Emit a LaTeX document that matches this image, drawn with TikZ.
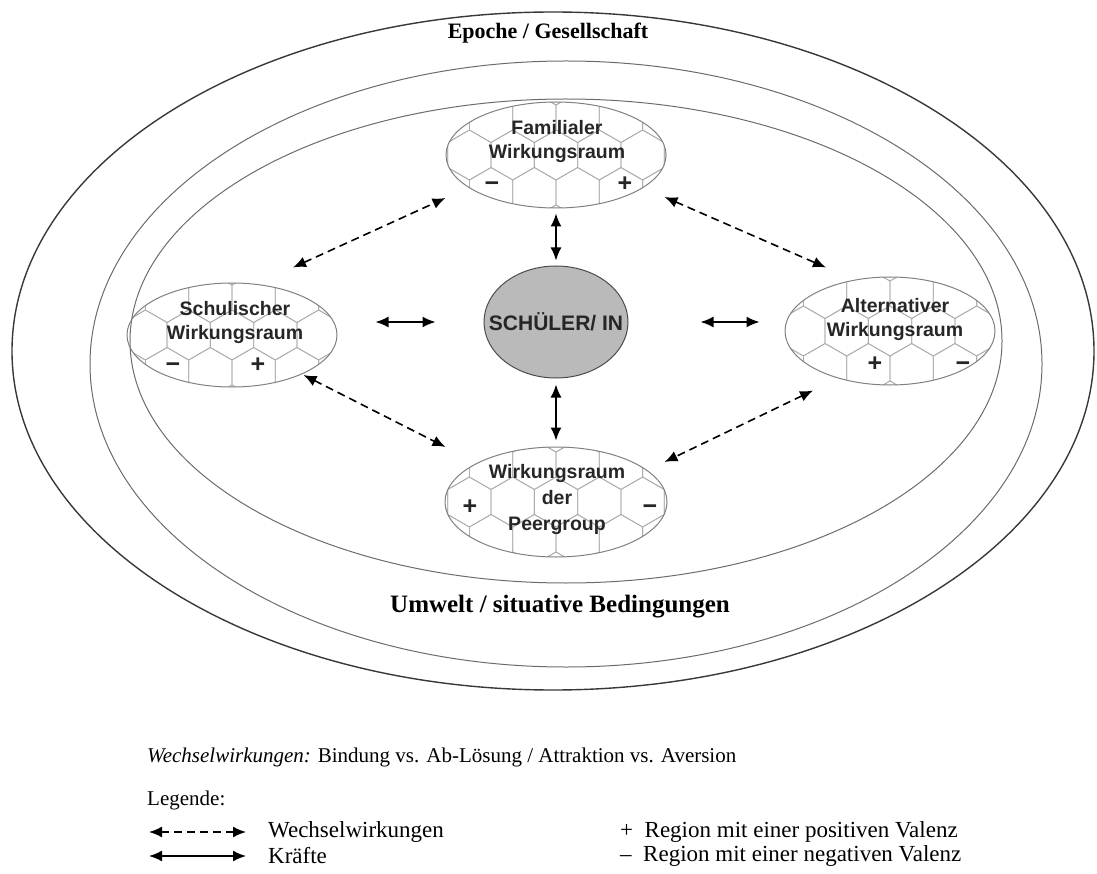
\documentclass[tikz,border=0pt]{standalone}
\usepackage{fontspec}
\setmainfont{Liberation Serif}
\newfontfamily\labelfont{Liberation Sans}
\usetikzlibrary{shapes.geometric,arrows.meta}

\tikzset{
  outerring/.style={draw=black!78, line width=1.4pt},
  ring/.style={draw=black!58, line width=1pt},
  field/.style={ellipse, draw=black!50, line width=1pt, inner sep=0pt},
  fieldtext/.style={font=\labelfont\bfseries\fontsize{19.5}{24}\selectfont, align=center, text=black!85, inner sep=0pt},
  hexline/.style={draw=black!32, line width=0.8pt},
  sign/.style={font=\labelfont\bfseries\fontsize{25}{25}\selectfont, inner sep=0pt, anchor=base, text=black!85},
  force/.style={{Latex[length=13pt,width=11pt]}-{Latex[length=13pt,width=11pt]}, line width=1.6pt},
  exchange/.style={force, dash pattern=on 8pt off 5pt},
  ringtext/.style={font=\bfseries, inner sep=0pt},
  legendtext/.style={anchor=west, inner sep=0pt, font=\fontsize{21}{21}\selectfont},
  keytext/.style={anchor=west, inner sep=0pt, font=\fontsize{23}{23}\selectfont},
}

% honeycomb texture clipped to an elliptic field: centre x, centre y, x radius, y radius
\newcommand\honeycomb[4]{%
  \begin{scope}
    \clip (#1,#2) ellipse [x radius=#3, y radius=#4];
    \foreach \r in {-2,...,2} {
      \foreach \c in {-4,...,4} {
        \pgfmathsetmacro\hx{#1 + \c*43.3 + mod(abs(\r),2)*21.65}
        \pgfmathsetmacro\hy{#2 + \r*37.5}
        \draw[hexline] (\hx,\hy) +(90:25) -- +(150:25) -- +(210:25)
          -- +(270:25) -- +(330:25) -- +(30:25) -- cycle;
      }
    }
  \end{scope}}

\begin{document}
\begin{tikzpicture}[x=1pt,y=-1pt]
  \useasboundingbox (0,0) rectangle (1097,874);

  % nested surroundings
  \draw[outerring] (553,351) ellipse [x radius=541, y radius=339];
  \draw[ring] (566,364) ellipse [x radius=476, y radius=303];
  \draw[ring] (566,341) ellipse [x radius=436, y radius=242];

  \node[ringtext, font=\bfseries\fontsize{22}{22}\selectfont] (epoch) at (548,33) {Epoche / Gesellschaft};
  \node[ringtext, font=\bfseries\fontsize{25}{25}\selectfont] (env) at (560,607) {Umwelt / situative Bedingungen};

  % honeycomb textures of the four fields
  \honeycomb{556}{155}{110}{53}
  \honeycomb{232}{335}{105}{52}
  \honeycomb{890}{331}{105}{54}
  \honeycomb{556}{502}{111}{55}

  % fields
  \node[field, minimum width=220pt, minimum height=106pt] (fam) at (556,155) {};
  \node[field, minimum width=210pt, minimum height=104pt] (schul) at (232,335) {};
  \node[field, minimum width=210pt, minimum height=108pt] (alt) at (890,331) {};
  \node[field, minimum width=222pt, minimum height=110pt] (peer) at (556,502) {};

  \node[fieldtext] (famtxt) at (557,142) {Familialer\\Wirkungsraum};
  \node[fieldtext] (schultxt) at (235,323) {Schulischer\\Wirkungsraum};
  \node[fieldtext] (alttxt) at (895,320) {Alternativer\\Wirkungsraum};
  \node[fieldtext, font=\labelfont\bfseries\fontsize{19.5}{26}\selectfont] (peertxt) at (557,499) {Wirkungsraum\\der\\Peergroup};

  % valence signs, placed on their baselines
  \node[sign] (famminus) at (492,192) {−};
  \node[sign] (famplus) at (625,192) {+};
  \node[sign] (schulminus) at (173,372) {−};
  \node[sign] (schulplus) at (258,372) {+};
  \node[sign] (altplus) at (875,371) {+};
  \node[sign] (altminus) at (963,371) {−};
  \node[sign] (peerplus) at (470,514) {+};
  \node[sign] (peerminus) at (650,514) {−};

  % the pupil: fixed-size ellipse, its name set as a centred label
  \node[ellipse, fill=black!27, draw=black!70, line width=1pt, inner sep=0pt,
        minimum width=144pt, minimum height=112pt,
        label={[font=\labelfont\bfseries\fontsize{21}{21}\selectfont, text=black!85, inner sep=0pt]center:SCHÜLER/ IN}] (pupil) at (556,322) {};

  % forces
  \draw[force, shorten <=5pt, shorten >=5pt] (fam.south) -- (pupil.north);
  \draw[force, shorten <=6pt, shorten >=6pt] (pupil.south) -- (peer.north);
  \draw[force, shorten <=38pt, shorten >=48pt] (schul.east |- pupil.west) -- (pupil.west);
  \draw[force, shorten <=72pt, shorten >=25pt] (pupil.east) -- (alt.west |- pupil.east);

  % interactions
  \draw[exchange] ([shift={(61,-15)}]schul.north) -- ([shift={(0,43)}]fam.west);
  \draw[exchange] ([shift={(-2,42)}]fam.east) -- ([shift={(-64,-9)}]alt.north);
  \draw[exchange] ([shift={(-34,40)}]schul.east) -- ([shift={(1,-55)}]peer.west);
  \draw[exchange] ([shift={(-77,5)}]alt.south) -- ([shift={(-3,-40)}]peer.east);

  % legend
  \node[legendtext] (wwline) at (147,757) {\textit{Wechselwirkungen:} Bindung vs. Ab-Lösung / Attraktion vs. Aversion};
  \node[legendtext] (legtitle) at (147,800) {Legende:};
  \coordinate (dashL) at (149,832);
  \coordinate (dashR) at (246,832);
  \coordinate (solidL) at (149,856);
  \coordinate (solidR) at (246,856);
  \draw[exchange] (dashL) -- (dashR);
  \draw[force] (solidL) -- (solidR);
  \node[keytext] (legww) at (268,832) {Wechselwirkungen};
  \node[keytext] (legkr) at (268,856) {Kräfte};
  \node[keytext] (legplus) at (620,832) {+\enspace Region mit einer positiven Valenz};
  \node[keytext] (legminus) at (620,856) {–\enspace Region mit einer negativen Valenz};
\end{tikzpicture}
\end{document}
